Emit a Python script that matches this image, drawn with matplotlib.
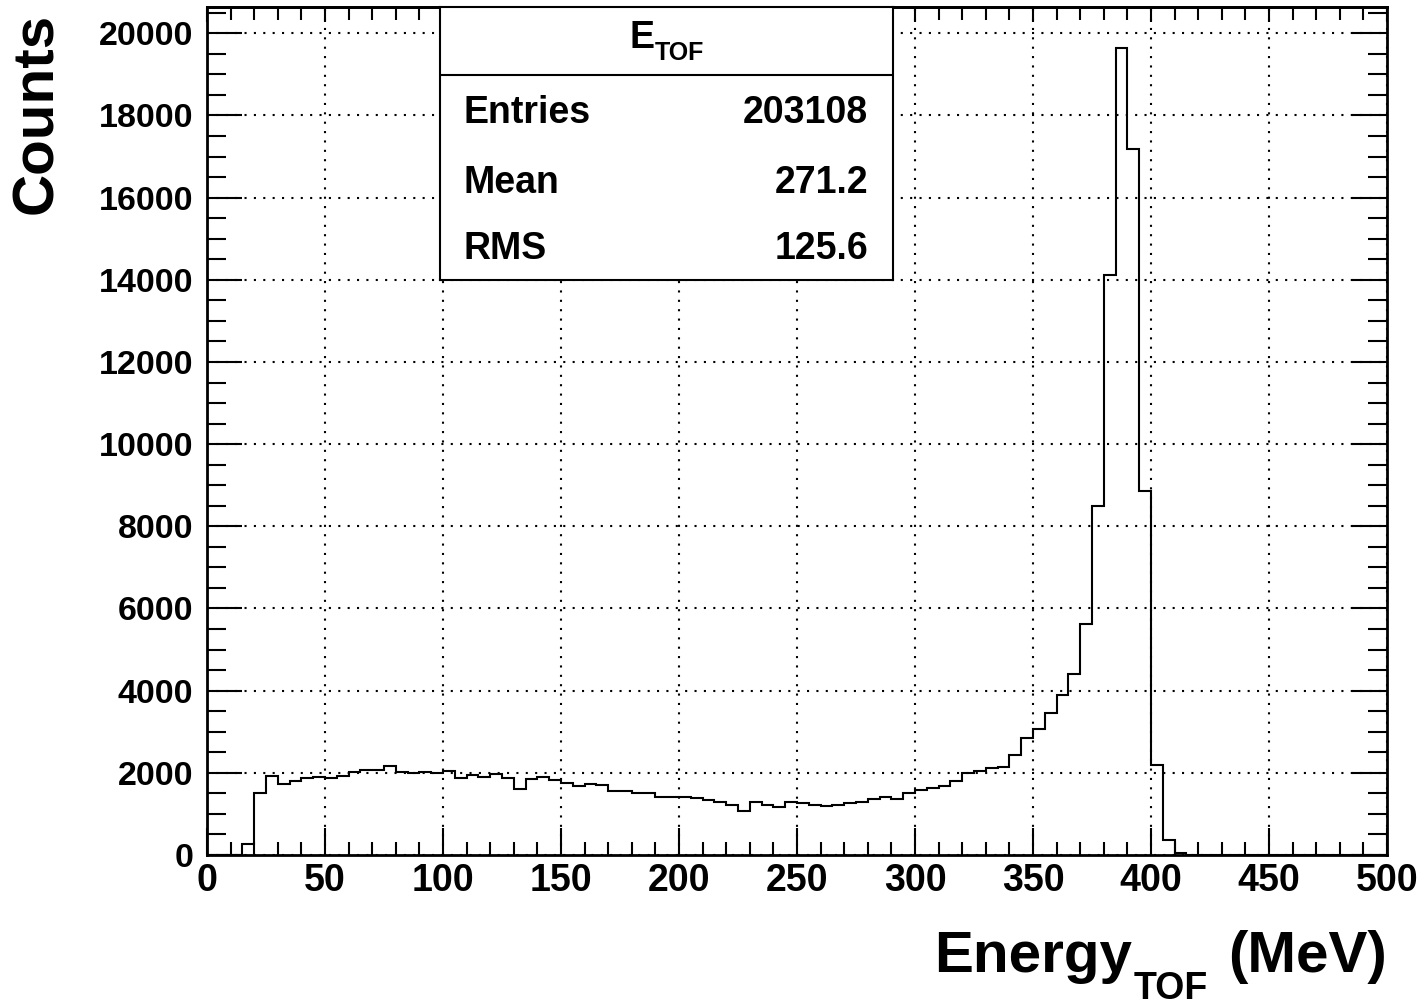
import numpy as np
import matplotlib
matplotlib.use("Agg")
import matplotlib.pyplot as plt
from matplotlib.ticker import MultipleLocator

plt.rcParams['font.family'] = ['Liberation Sans', 'DejaVu Sans']
plt.rcParams['font.weight'] = 'bold'

# ---- data (5 MeV bins from 0 to 500 MeV) ----
bin_edges = np.arange(0, 505, 5)
counts = [
    0, 0, 0, 260, 1500, 1927, 1717, 1806, 1863, 1887,
    1880, 1927, 2017, 2065, 2057, 2170, 2025, 2000, 2010, 1985,
    2041, 1871, 1952, 1903, 1965, 1871, 1604, 1855, 1887, 1814,
    1741, 1676, 1733, 1700, 1563, 1563, 1515, 1515, 1418, 1418,
    1401, 1385, 1328, 1280, 1215, 1069, 1288, 1215, 1174, 1300,
    1256, 1223, 1183, 1223, 1256, 1296, 1369, 1418, 1353, 1499,
    1580, 1636, 1685, 1798, 1985, 2033, 2122, 2150, 2425, 2851,
    3062, 3459, 3896, 4406, 5630, 8505, 14118, 19640, 17173, 8853,
    2180, 355, 40, 0, 0, 0, 0, 0, 0, 0,
    0, 0, 0, 0, 0, 0, 0, 0, 0, 0,
]
x_major_ticks = [0, 50, 100, 150, 200, 250, 300, 350, 400, 450, 500]
y_major_ticks = [0, 2000, 4000, 6000, 8000, 10000, 12000, 14000, 16000, 18000, 20000]
stat_names = ["Entries", "Mean", "RMS"]
stat_values = ["203108", "271.2", "125.6"]

W, H = 1422, 1007
fig = plt.figure(figsize=(W / 100, H / 100), dpi=100)
L, R, T, B = 207, 1387, 7, 855
ax = fig.add_axes([L / W, (H - B) / H, (R - L) / W, (B - T) / H])

ax.stairs(counts, bin_edges, color='black', linewidth=1.5, zorder=3)
ax.set_xlim(0, 500)
ax.set_ylim(0, 20640)

ax.set_xticks(x_major_ticks)
ax.set_yticks(y_major_ticks)
ax.xaxis.set_minor_locator(MultipleLocator(10))
ax.yaxis.set_minor_locator(MultipleLocator(500))

ax.grid(True, which='major', color='black', linestyle=(0, (1, 3.5)), linewidth=1.5, zorder=1)

ax.tick_params(axis='x', which='major', direction='in', length=19.5, width=1.5,
               top=False, labelsize=27, pad=6)
ax.tick_params(axis='x', which='minor', direction='in', length=9.4, width=1.5, top=False)
ax.tick_params(axis='y', which='major', direction='in', length=25, width=1.5,
               right=True, labelsize=24.5, pad=10)
ax.tick_params(axis='y', which='minor', direction='in', length=13.5, width=1.5, right=True)
for lab in ax.get_xticklabels() + ax.get_yticklabels():
    lab.set_fontweight('bold')

secx = ax.secondary_xaxis('top')
secx.set_xticks(x_major_ticks)
secx.xaxis.set_minor_locator(MultipleLocator(10))
secx.tick_params(axis='x', which='major', direction='in', length=11, width=1.5, labeltop=False)
secx.tick_params(axis='x', which='minor', direction='in', length=9.4, width=1.5)
secx.spines['top'].set_linewidth(2)

for sp in ax.spines.values():
    sp.set_linewidth(2)
    sp.set_zorder(5)

renderer = fig.canvas.get_renderer()


def px(x, y):
    return x / W, (H - y) / H


def width_px(t):
    return t.get_window_extent(renderer=renderer).width


# x axis title: "Energy" + subscript "TOF" + " (MeV)", right-aligned at the frame edge
t3 = fig.text(*px(R, 972), '(MeV)', ha='right', va='baseline', fontsize=42, fontweight='bold')
x3 = R - width_px(t3)
t2 = fig.text(*px(x3 - 20, 999), 'TOF', ha='right', va='baseline', fontsize=27, fontweight='bold')
x2 = x3 - 20 - width_px(t2)
fig.text(*px(x2 - 2, 972), 'Energy', ha='right', va='baseline', fontsize=42, fontweight='bold')

fig.text(37 / W, (H - 13) / H, 'Counts', rotation=90, ha='center', va='top',
         fontsize=42, fontweight='bold')

# stats box
bx0, bx1, by0, by1 = 440, 893, 7, 280
sax = fig.add_axes([bx0 / W, (H - by1) / H, (bx1 - bx0) / W, (by1 - by0) / H])
sax.set_xlim(0, 1)
sax.set_ylim(0, 1)
sax.set_xticks([])
sax.set_yticks([])
for sp in sax.spines.values():
    sp.set_linewidth(1.5)
sax.set_facecolor('white')
sax.axhline(1 - (75 - by0) / (by1 - by0), color='black', linewidth=1.5)

# stats title E_TOF centred in the header
tE = fig.text(*px(0, 48), 'E', ha='left', va='baseline', fontsize=27, fontweight='bold')
tT = fig.text(*px(0, 60), 'TOF', ha='left', va='baseline', fontsize=18, fontweight='bold')
wE, wT = width_px(tE), width_px(tT)
start = (bx0 + bx1) / 2 - (wE + wT) / 2
tE.set_position(px(start, 48))
tT.set_position(px(start + wE, 60))

baselines = [123, 193, 259]
for name, val, bl in zip(stat_names, stat_values, baselines):
    yy = 1 - (bl - by0) / (by1 - by0)
    sax.text((463 - bx0) / (bx1 - bx0), yy, name, ha='left', va='baseline',
             fontsize=27, fontweight='bold')
    sax.text((868 - bx0) / (bx1 - bx0), yy, val, ha='right', va='baseline',
             fontsize=27, fontweight='bold')

fig.savefig('out.png', dpi=100, facecolor='white')
